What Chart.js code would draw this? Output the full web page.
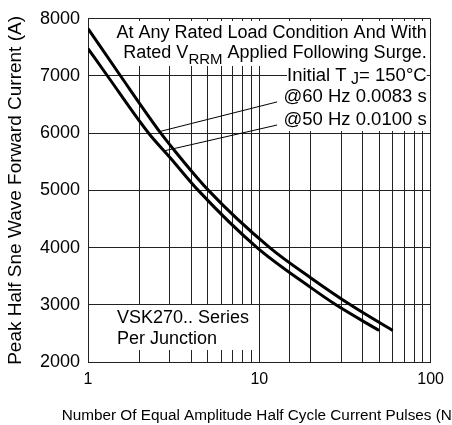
<!DOCTYPE html>
<html>
<head>
<meta charset="utf-8">
<script src="https://cdn.jsdelivr.net/npm/chart.js@4.4.1/dist/chart.umd.min.js"></script>
<style>
  html, body { margin: 0; padding: 0; background: #fff; }
  #wrap { width: 452px; height: 425px; }
</style>
</head>
<body>
<div id="wrap"><canvas id="chart" width="452" height="425"></canvas></div>
<script>
// curve readings (pulses N, peak current A)
const pulses60 = [1, 1.55, 2.66, 3, 5.05, 11.5, 20, 34, 60]
const current60 = [7830, 7000, 6000, 5800, 5000, 4000, 3470, 3000, 2550]
const pulses50 = [1, 1.3, 2.26, 3, 4.4, 9.7, 20, 28, 50]
const current50 = [7480, 7000, 6000, 5580, 5000, 4000, 3300, 3000, 2550]

const xTickLabels = [1, 10, 100]
const yMin = 2000, yMax = 8000, yStep = 1000
const xTitle = 'Number Of Equal Amplitude Half Cycle Current Pulses (N)'

// leader lines: [from N, from A, to N, to A]
const leader60 = [2.66, 6034, 12.7, 6547]
const leader50 = [2.77, 5690, 12.7, 6143]

const FONT = '"Liberation Sans", Arial, sans-serif'

function runsWidth(ctx, runs) {
  let w = 0
  runs.forEach(r => { ctx.font = r.size + 'px ' + FONT; w += ctx.measureText(r.text).width })
  return w
}
function drawRuns(ctx, runs, x, y) {
  runs.forEach(r => {
    ctx.font = r.size + 'px ' + FONT
    ctx.fillText(r.text, x, y + (r.dy || 0))
    x += ctx.measureText(r.text).width
  })
}

const notes = {
  id: 'notes',
  beforeDatasetsDraw(chart) {
    const { ctx, chartArea: a, scales: { x, y } } = chart
    ctx.save()
    ctx.fillStyle = '#000'
    ctx.textBaseline = 'alphabetic'
    ctx.textAlign = 'left'
    const right = a.right - 4
    const lines = [
      { runs: [{ text: 'At Any Rated Load Condition And With', size: 18 }], base: 37.5, top: 21, bot: 42, pad: 2 },
      { runs: [{ text: 'Rated V', size: 18 }, { text: 'RRM', size: 15, dy: 6 }, { text: ' Applied Following Surge.', size: 18 }], base: 57.5, top: 42, bot: 66, pad: 2 },
      { runs: [{ text: 'Initial T', size: 18.5 }, { text: ' J', size: 16, dy: 3 }, { text: '= 150°C', size: 18.5 }], base: 81, top: 66, bot: 87, pad: 0 },
      { runs: [{ text: '@60 Hz 0.0083 s', size: 18.5 }], base: 102, top: 87, bot: 109, pad: 2 },
      { runs: [{ text: '@50 Hz 0.0100 s', size: 18.5 }], base: 125, top: 109, bot: 131, pad: 2 }
    ]
    lines.forEach(l => {
      const w = runsWidth(ctx, l.runs)
      ctx.fillStyle = '#fff'
      ctx.fillRect(right - w - l.pad, l.top, w + l.pad + Math.min(l.pad * 2, 3), l.bot - l.top)
      ctx.fillStyle = '#000'
      drawRuns(ctx, l.runs, right - w, l.base)
    })

    // series label box, bottom-left
    const bx = a.left + 22, bTop = a.bottom - 57
    ctx.fillStyle = '#fff'
    ctx.fillRect(bx, bTop, 148, 45)
    ctx.fillStyle = '#000'
    ctx.font = '18px ' + FONT
    ctx.fillText('VSK270.. Series', bx + 7, bTop + 18)
    ctx.fillText('Per Junction', bx + 7, bTop + 39)

    // leader lines
    ctx.strokeStyle = '#000'
    ctx.lineWidth = 1
    ;[leader60, leader50].forEach(l => {
      ctx.beginPath()
      ctx.moveTo(x.getPixelForValue(l[0]), y.getPixelForValue(l[1]))
      ctx.lineTo(x.getPixelForValue(l[2]), y.getPixelForValue(l[3]))
      ctx.stroke()
    })
    ctx.restore()
  },
  afterDraw(chart) {
    // x axis title: wider than the plot, so it runs off the right edge like the original
    const { ctx, scales: { x } } = chart
    ctx.save()
    ctx.fillStyle = '#000'
    ctx.font = '15.3px ' + FONT
    ctx.textAlign = 'center'
    ctx.textBaseline = 'alphabetic'
    ctx.fillText(xTitle, (x.left + x.right) / 2, x.bottom - 5)
    ctx.restore()
  }
}

const toPts = (xs, ys) => xs.map((v, i) => ({ x: v, y: ys[i] }))

new Chart(document.getElementById('chart'), {
  type: 'line',
  data: {
    datasets: [
      { label: '@60 Hz 0.0083 s', data: toPts(pulses60, current60) },
      { label: '@50 Hz 0.0100 s', data: toPts(pulses50, current50) }
    ]
  },
  options: {
    responsive: false,
    animation: false,
    layout: { padding: { top: 14, right: 16, left: 0, bottom: 0 } },
    elements: {
      point: { radius: 0 },
      line: { borderColor: '#000', borderWidth: 3, cubicInterpolationMode: 'monotone', fill: false }
    },
    plugins: { legend: { display: false }, tooltip: { enabled: false } },
    scales: {
      x: {
        type: 'logarithmic',
        min: 1,
        max: 100,
        afterFit: s => { s.height = 63 },
        grid: { color: '#222', lineWidth: 1, drawTicks: false },
        border: { color: '#222' },
        ticks: {
          color: '#000',
          autoSkip: false,
          maxRotation: 0,
          padding: 8,
          font: { family: FONT, size: 16 },
          callback: v => xTickLabels.includes(v) ? String(v) : ''
        }
      },
      y: {
        min: yMin,
        max: yMax,
        afterFit: s => { s.width = 88 },
        grid: { color: '#222', lineWidth: 1, drawTicks: false },
        border: { color: '#222' },
        ticks: {
          stepSize: yStep,
          color: '#000',
          padding: 8,
          font: { family: FONT, size: 18 },
          callback: v => String(v)
        },
        title: {
          display: true,
          text: 'Peak Half Sne Wave Forward Current (A)',
          color: '#000',
          font: { family: FONT, size: 19 },
          padding: { top: 4, bottom: 0 }
        }
      }
    }
  },
  plugins: [notes]
})
</script>
</body>
</html>
